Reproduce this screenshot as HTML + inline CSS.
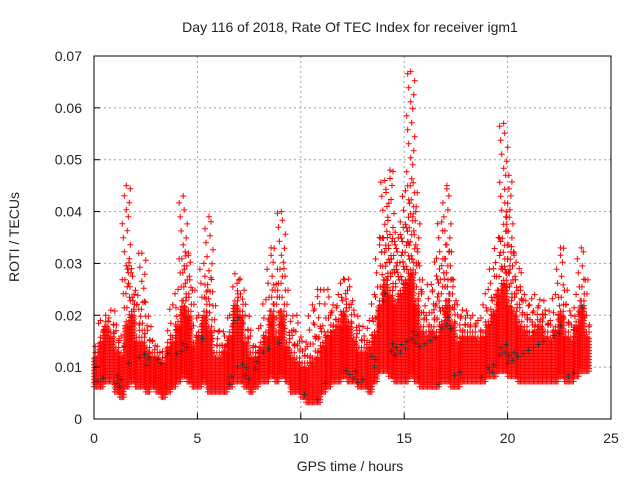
<!DOCTYPE html>
<html><head><meta charset="utf-8"><style>
html,body{margin:0;padding:0;background:#fff}
svg text{font-family:"Liberation Sans","DejaVu Sans",sans-serif;font-size:14px;fill:#222}
</style></head><body>
<svg id="chart" width="640" height="480" viewBox="0 0 640 480">
<text x="350" y="32" text-anchor="middle">Day 116 of 2018, Rate Of TEC Index for receiver igm1</text>
<text x="350" y="471" text-anchor="middle">GPS time / hours</text>
<text transform="translate(19,237) rotate(-90)" text-anchor="middle">ROTI / TECUs</text>
<g id="grid"></g>
<g id="marks"></g>
<rect x="94" y="56" width="517" height="363" fill="none" stroke="#000" stroke-width="1"/>
<g id="ticks"></g>
</svg>
<script>
const binStart = [0,0.25,0.5,0.75,1,1.25,1.5,1.75,2,2.25,2.5,2.75,3,3.25,3.5,3.75,4,4.25,4.5,4.75,5,5.25,5.5,5.75,6,6.25,6.5,6.75,7,7.25,7.5,7.75,8,8.25,8.5,8.75,9,9.25,9.5,9.75,10,10.25,10.5,10.75,11,11.25,11.5,11.75,12,12.25,12.5,12.75,13,13.25,13.5,13.75,14,14.25,14.5,14.75,15,15.25,15.5,15.75,16,16.25,16.5,16.75,17,17.25,17.5,17.75,18,18.25,18.5,18.75,19,19.25,19.5,19.75,20,20.25,20.5,20.75,21,21.25,21.5,21.75,22,22.25,22.5,22.75,23,23.25,23.5,23.75];
const coreLow = [.007,.007,.008,.008,.006,.005,.007,.008,.007,.007,.006,.007,.006,.005,.006,.007,.008,.009,.008,.007,.007,.008,.006,.006,.006,.006,.007,.008,.008,.007,.006,.007,.008,.008,.009,.008,.009,.008,.006,.006,.005,.004,.004,.004,.006,.007,.008,.008,.009,.008,.008,.007,.007,.006,.008,.010,.010,.009,.008,.008,.008,.009,.008,.007,.007,.007,.007,.008,.008,.007,.007,.008,.008,.008,.008,.008,.009,.009,.010,.010,.009,.009,.008,.008,.008,.008,.008,.008,.008,.008,.009,.008,.008,.009,.010,.010];
const coreHigh = [.012,.015,.018,.016,.013,.012,.018,.020,.015,.015,.013,.012,.012,.011,.014,.015,.018,.022,.020,.014,.016,.020,.017,.012,.012,.013,.016,.022,.020,.015,.012,.012,.014,.016,.020,.016,.020,.014,.012,.011,.010,.010,.011,.012,.014,.016,.017,.018,.020,.018,.015,.013,.013,.014,.016,.022,.026,.024,.022,.024,.026,.028,.022,.017,.016,.017,.016,.018,.022,.018,.015,.016,.016,.016,.015,.016,.018,.020,.024,.026,.022,.020,.018,.017,.016,.017,.018,.016,.015,.017,.020,.016,.015,.018,.022,.016];
const peak = [.014,.019,.020,.021,.017,.016,.045,.029,.022,.032,.018,.015,.014,.013,.017,.022,.025,.043,.032,.018,.020,.030,.039,.017,.017,.016,.020,.028,.027,.020,.016,.014,.018,.023,.033,.026,.040,.020,.017,.020,.015,.014,.022,.025,.018,.025,.022,.024,.027,.027,.021,.018,.016,.019,.024,.035,.046,.048,.036,.038,.044,.067,.040,.025,.020,.026,.031,.038,.045,.027,.022,.021,.020,.020,.019,.022,.025,.029,.035,.057,.047,.032,.029,.024,.022,.024,.023,.021,.019,.024,.033,.022,.020,.024,.033,.020];
const xTicks = [0,5,10,15,20,25];
const yTicks = [0,0.01,0.02,0.03,0.04,0.05,0.06,0.07];
const yTickLabels = ["0","0.01","0.02","0.03","0.04","0.05","0.06","0.07"];

const X0=94,X1=611,Y0=419,Y1=56;
const xs = v => X0 + v/25*(X1-X0);
const ys = v => Y0 - v/0.07*(Y0-Y1);
const NS="http://www.w3.org/2000/svg";
const grid=document.getElementById('grid'), ticks=document.getElementById('ticks'), marks=document.getElementById('marks');
function mk(tag,attrs,parent){const e=document.createElementNS(NS,tag);for(const k in attrs)e.setAttribute(k,attrs[k]);parent.appendChild(e);return e;}

xTicks.forEach((t,i)=>{
  const x=xs(t);
  if(i>0&&i<xTicks.length-1){const g=mk('line',{x1:x,x2:x,y1:Y1,y2:Y0,stroke:'#a0a0a0','stroke-dasharray':'2,3'},grid);
    
    }
  const tl=mk('line',{x1:x,x2:x,y1:Y0,y2:Y0-6,stroke:'#000'},ticks);
  
  
  const tx=mk('text',{x:x,y:Y0+24,'text-anchor':'middle'},ticks);tx.textContent=t;
  
  
});
yTicks.forEach((t,i)=>{
  const y=ys(t);
  if(i>0&&i<yTicks.length-1){const g=mk('line',{x1:X0,x2:X1,y1:y,y2:y,stroke:'#a0a0a0','stroke-dasharray':'2,3'},grid);
    
    }
  const tl=mk('line',{x1:X0,x2:X0+6,y1:y,y2:y,stroke:'#000'},ticks);
  
  
  const tx=mk('text',{x:X0-12,y:y+5,'text-anchor':'end'},ticks);tx.textContent=yTickLabels[i];
  
  
});

let dRed="", dBlk="";
function plus(x,y){return `M${(x-3).toFixed(1)} ${y.toFixed(1)}h6M${x.toFixed(1)} ${(y-3).toFixed(1)}v6`;}
const zig=[0,3,-2,4,-3,1,-4,2];
binStart.forEach((b,i)=>{
  const lo=ys(coreLow[i]), hi=ys(coreHigh[i]), pk=ys(peak[i]);
  for(let c=0;c<4;c++){
    const x=xs(b+c*0.0625);
    for(let y=lo+(c%2)*1.5;y>=hi;y-=3){
      if((Math.round(y)+c*7+i*3)%67===0) dBlk+=plus(x,y); else dRed+=plus(x,y);
    }
    if(c===1||c===3){
      const top=c===1?pk:(hi+(pk-hi)*0.45);
      let k=0;
      for(let y=hi-4;y>=top;y-=7){dRed+=plus(x+zig[k%8],y);k++;}
      dRed+=plus(x,top);
    }
    dRed+=plus(x,lo+4);
  }
});
const p1=mk('path',{d:dRed,stroke:'#ff0000','stroke-width':1,fill:'none'},marks);


const p2=mk('path',{d:dBlk,stroke:'#303030','stroke-width':1,fill:'none'},marks);


</script>
</body></html>
